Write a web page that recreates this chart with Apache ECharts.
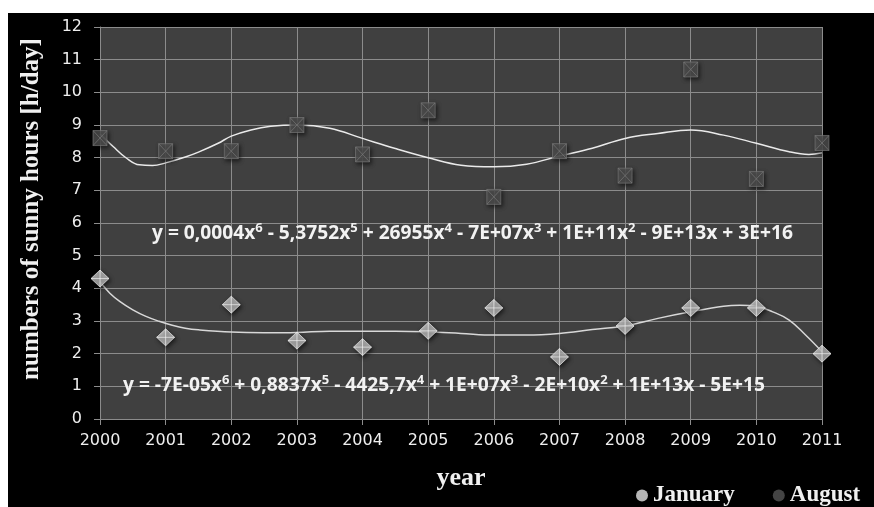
<!DOCTYPE html>
<html>
<head>
<meta charset="utf-8">
<script src="https://cdn.jsdelivr.net/npm/echarts@6/dist/echarts.min.js"></script>
<style>
  html, body { margin: 0; padding: 0; background: #ffffff; }
  #chart { position: absolute; left: 8px; top: 13px; width: 866px; height: 494px; background: #000000; }
</style>
</head>
<body>
<div id="chart"></div>
<script>
// Years on the horizontal axis and their tick labels
const years = [2000, 2001, 2002, 2003, 2004, 2005, 2006, 2007, 2008, 2009, 2010, 2011];
const yearLabels = ['2000', '2001', '2002', '2003', '2004', '2005', '2006', '2007', '2008', '2009', '2010', '2011'];
const hourTicks = [0, 1, 2, 3, 4, 5, 6, 7, 8, 9, 10, 11, 12];

// Mean sunny hours per day
const januaryHours = [4.3, 2.5, 3.5, 2.4, 2.2, 2.7, 3.4, 1.9, 2.85, 3.4, 3.4, 2.0];
const augustHours = [8.6, 8.2, 8.2, 9.0, 8.1, 9.45, 6.8, 8.2, 7.45, 10.7, 7.35, 8.45];

// Polynomial trend curves (6th order), sampled along the year axis
const januaryTrendX = [2000, 2000.15, 2000.3, 2000.5, 2000.7, 2000.9, 2001.1, 2001.3, 2001.5, 2002, 2002.5, 2003, 2003.5, 2004, 2004.5, 2005, 2005.5, 2006, 2006.5, 2007, 2007.5, 2008, 2008.5, 2009, 2009.5, 2009.75, 2010, 2010.25, 2010.5, 2010.75, 2011];
const januaryTrendY = [4.2, 3.85, 3.6, 3.34, 3.14, 2.99, 2.87, 2.78, 2.73, 2.66, 2.64, 2.65, 2.69, 2.69, 2.69, 2.67, 2.62, 2.57, 2.57, 2.62, 2.74, 2.85, 3.08, 3.28, 3.45, 3.48, 3.45, 3.28, 3.03, 2.57, 2.06];
const augustTrendX = [2000, 2000.2, 2000.4, 2000.6, 2000.8, 2001, 2001.3, 2001.5, 2001.8, 2002, 2002.3, 2002.6, 2003, 2003.5, 2004, 2004.5, 2005, 2005.5, 2006, 2006.5, 2007, 2007.5, 2008, 2008.5, 2009, 2009.5, 2010, 2010.5, 2010.8, 2011];
const augustTrendY = [8.72, 8.34, 7.99, 7.78, 7.76, 7.84, 8.02, 8.17, 8.44, 8.66, 8.85, 8.96, 9.0, 8.9, 8.59, 8.28, 8.0, 7.77, 7.72, 7.8, 8.05, 8.29, 8.59, 8.74, 8.85, 8.69, 8.44, 8.18, 8.1, 8.15];

// Trendline equations
const augustEquation = 'y = 0,0004x{s|6} - 5,3752x{s|5} + 26955x{s|4} - 7E+07x{s|3} + 1E+11x{s|2} - 9E+13x + 3E+16';
const januaryEquation = 'y = -7E-05x{s|6} + 0,8837x{s|5} - 4425,7x{s|4} + 1E+07x{s|3} - 2E+10x{s|2} + 1E+13x - 5E+15';

const zip = (xs, ys) => xs.map((x, i) => [x, ys[i]]);

const gridGray = '#8c8c8c';
const labelFont = 'DejaVu Sans';
const serif = 'Liberation Serif';
const eqFont = 'Open Sans';

const eqRich = {
  s: { fontFamily: eqFont, fontWeight: 'bold', fontSize: 13, color: '#f2f2f2', verticalAlign: 'top', lineHeight: 12 }
};

const chart = echarts.init(document.getElementById('chart'), null, { renderer: 'canvas' });

chart.setOption({
  backgroundColor: 'transparent',
  animation: false,
  grid: {
    left: 92, right: 52, top: 14, bottom: 88,
    show: true, backgroundColor: '#404040', borderWidth: 0
  },
  legend: {
    left: 623, top: 466,
    itemWidth: 12, itemHeight: 12, itemGap: 38,
    textStyle: { fontFamily: serif, fontWeight: 'bold', fontSize: 23, color: '#f0f0f0' },
    data: [
      { name: 'January', icon: 'circle', itemStyle: { color: '#e4e4e4', borderWidth: 0 } },
      { name: 'August', icon: 'circle', itemStyle: { color: '#555555', borderWidth: 0 } }
    ]
  },
  xAxis: {
    type: 'value',
    min: years[0], max: years[years.length - 1], interval: 1,
    name: 'year',
    nameLocation: 'middle', nameGap: 46,
    nameTextStyle: { fontFamily: serif, fontWeight: 'bold', fontSize: 26, color: '#f0f0f0' },
    axisLine: { show: true, lineStyle: { color: gridGray, width: 1 } },
    axisTick: { show: true, length: 6, lineStyle: { color: gridGray } },
    axisLabel: {
      margin: 14, color: '#eeeeee', fontFamily: labelFont, fontSize: 16,
      formatter: v => { const i = years.indexOf(v); return i >= 0 ? yearLabels[i] : ''; }
    },
    splitLine: { show: true, lineStyle: { color: gridGray, width: 1 } }
  },
  yAxis: {
    type: 'value',
    min: hourTicks[0], max: hourTicks[hourTicks.length - 1], interval: 1,
    name: 'numbers of sunny hours [h/day]',
    nameLocation: 'middle', nameGap: 56, nameRotate: 90,
    nameTextStyle: { fontFamily: serif, fontWeight: 'bold', fontSize: 25, color: '#f0f0f0', padding: [0, 0, 0, 28] },
    axisLine: { show: true, lineStyle: { color: gridGray, width: 1 } },
    axisTick: { show: true, length: 6, lineStyle: { color: gridGray } },
    axisLabel: {
      margin: 18, color: '#eeeeee', fontFamily: labelFont, fontSize: 16,
      formatter: v => String(hourTicks[hourTicks.indexOf(v)])
    },
    splitLine: { show: true, lineStyle: { color: gridGray, width: 1 } }
  },
  series: [
    {
      name: 'August trend', type: 'line', data: zip(augustTrendX, augustTrendY),
      smooth: 0.4, showSymbol: false, silent: true, z: 2,
      lineStyle: { color: '#eaeaea', width: 1.5 }
    },
    {
      name: 'January trend', type: 'line', data: zip(januaryTrendX, januaryTrendY),
      smooth: 0.4, showSymbol: false, silent: true, z: 2,
      lineStyle: { color: '#d8d8d8', width: 1.5 }
    },
    {
      name: 'January', type: 'scatter', data: zip(years, januaryHours), z: 3,
      symbol: 'path://M5,0L10,5L5,10L0,5Z M5,0L5,10 M0,5L10,5',
      symbolSize: [18, 17],
      itemStyle: {
        color: '#d2d2d2', borderColor: '#f4f4f4', borderWidth: 0.8,
        shadowBlur: 4, shadowColor: 'rgba(0,0,0,0.7)', shadowOffsetX: 1.5, shadowOffsetY: 2
      }
    },
    {
      name: 'August', type: 'scatter', data: zip(years, augustHours), z: 3,
      symbol: 'path://M0,0L10,0L10,10L0,10Z M0,0L10,10 M10,0L0,10',
      symbolSize: [14, 15],
      itemStyle: {
        color: '#595959', borderColor: '#7c7c7c', borderWidth: 0.8,
        shadowBlur: 4, shadowColor: 'rgba(0,0,0,0.7)', shadowOffsetX: 1.5, shadowOffsetY: 2
      }
    }
  ],
  graphic: [
    {
      type: 'text', left: 144, top: 209, z: 10,
      style: {
        text: augustEquation, rich: eqRich,
        fontFamily: eqFont, fontWeight: 'bold', fontSize: 19.2, lineHeight: 24,
        fill: '#f2f2f2'
      }
    },
    {
      type: 'text', left: 115, top: 361, z: 10,
      style: {
        text: januaryEquation, rich: eqRich,
        fontFamily: eqFont, fontWeight: 'bold', fontSize: 19.2, lineHeight: 24,
        fill: '#f2f2f2'
      }
    }
  ]
});
</script>
</body>
</html>
